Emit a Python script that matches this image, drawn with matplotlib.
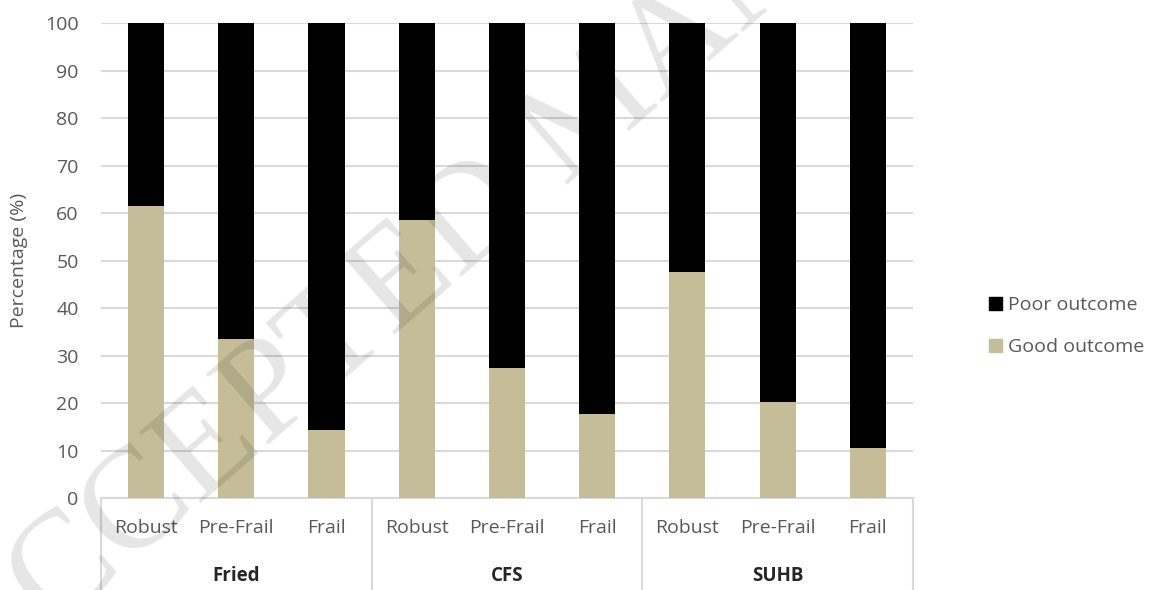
import numpy as np
import matplotlib.pyplot as plt
from matplotlib.patches import Patch
from matplotlib.transforms import blended_transform_factory

# data
groups = ['Fried', 'CFS', 'SUHB']
categories = ['Robust', 'Pre-Frail', 'Frail']
good_outcome = [61.5, 33.5, 14.3, 58.5, 27.3, 17.6, 47.7, 20.2, 10.6]
poor_outcome = [100 - g for g in good_outcome]

plt.rcParams['font.family'] = ['Open Sans', 'DejaVu Sans']

tan = '#C4BD97'
grey_text = '#595959'
grid_col = '#D9D9D9'

fig = plt.figure(figsize=(11.51, 5.90), dpi=100)
ax = fig.add_axes([0.0877, 0.1559, 0.7055, 0.8046])

x = np.arange(len(good_outcome))
ax.bar(x, good_outcome, width=0.4, color=tan, zorder=3)
ax.bar(x, poor_outcome, width=0.4, bottom=good_outcome, color='black', zorder=3)

ax.set_xlim(-0.5, len(x) - 0.5)
ax.set_ylim(0, 100)
ax.set_yticks(np.arange(0, 101, 10))
ax.yaxis.grid(True, color=grid_col, linewidth=1.5, zorder=0)
ax.tick_params(axis='y', length=0, pad=16, labelsize=14, labelcolor=grey_text)
ax.tick_params(axis='x', length=0, labelbottom=False)
for s in ['top', 'right', 'left']:
    ax.spines[s].set_visible(False)
ax.spines['bottom'].set_color(grid_col)
ax.spines['bottom'].set_linewidth(1.5)
ax.set_ylabel('Percentage (%)', fontsize=14, color=grey_text, labelpad=12)

# two level category axis
trans = blended_transform_factory(ax.transData, ax.transAxes)
n_cat = len(categories)
for i in range(len(x)):
    ax.text(x[i], -0.063, categories[i % n_cat], transform=trans, ha='center', va='center',
            fontsize=14, color=grey_text)
for gi, g in enumerate(groups):
    centre = gi * n_cat + (n_cat - 1) / 2
    ax.text(centre, -0.165, g, transform=trans, ha='center', va='center',
            fontsize=13.5, fontweight='bold', color='#262626')
for b in np.arange(-0.5, len(x), n_cat):
    ax.plot([b, b], [0, -0.2], transform=trans, color=grid_col, linewidth=1.5, clip_on=False)

handles = [Patch(color='black'), Patch(color=tan)]
fig.legend(handles, ['Poor outcome', 'Good outcome'], loc='center left',
           bbox_to_anchor=(0.8506, 0.447), frameon=False, borderpad=0,
           handlelength=0.7, handleheight=0.7, handletextpad=0.3, labelspacing=1.25,
           fontsize=14, labelcolor=grey_text)

# watermark
fig.text(0.52, 0.81, 'ACCEPTED MANUSCRIPT', family='Liberation Serif', fontsize=104,
         color='black', alpha=0.1, rotation=41, rotation_mode='anchor',
         ha='center', va='center', zorder=10)

fig.savefig('out.png', dpi=100)
